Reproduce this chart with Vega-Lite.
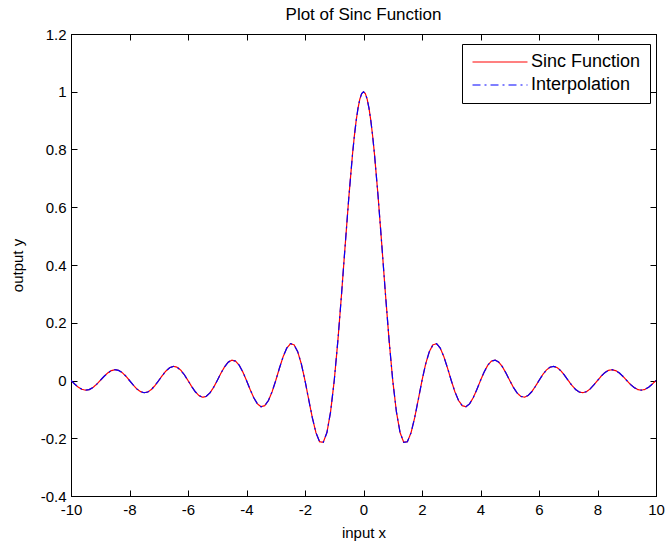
{
  "$schema": "https://vega.github.io/schema/vega-lite/v6.json",
  "width": 585,
  "height": 462,
  "autosize": {"type": "none"},
  "padding": {"left": 71, "top": 34, "right": 10, "bottom": 49},
  "background": "white",
  "title": {"text": "Plot of Sinc Function", "fontSize": 17, "fontWeight": "normal", "font": "Liberation Sans", "color": "black", "offset": 3, "anchor": "middle"},
  "config": {
    "locale": {"number": {"decimal": ".", "thousands": ",", "grouping": [3], "currency": ["$", ""], "minus": "-"}},
    "view": {"stroke": "black", "strokeWidth": 1},
    "axis": {"grid": false, "domainColor": "black", "tickColor": "black", "labelColor": "black", "titleColor": "black", "labelFont": "Liberation Sans", "titleFont": "Liberation Sans", "labelFontSize": 15, "titleFontSize": 15, "titleFontWeight": "normal", "tickSize": -6, "labelFlush": false, "labelOverlap": false}
  },
  "data": {"values": [
    {"x":-10,"y":0},{"x":-9.875,"y":-0.0123},{"x":-9.75,"y":-0.0231},{"x":-9.625,"y":-0.0306},{"x":-9.5,"y":-0.0335},{"x":-9.375,"y":-0.0314},{"x":-9.25,"y":-0.0243},{"x":-9.125,"y":-0.0133},
    {"x":-9,"y":0},{"x":-8.875,"y":0.0137},{"x":-8.75,"y":0.0257},{"x":-8.625,"y":0.0341},{"x":-8.5,"y":0.0374},{"x":-8.375,"y":0.0351},{"x":-8.25,"y":0.0273},{"x":-8.125,"y":0.015},
    {"x":-8,"y":0},{"x":-7.875,"y":-0.0155},{"x":-7.75,"y":-0.029},{"x":-7.625,"y":-0.0386},{"x":-7.5,"y":-0.0424},{"x":-7.375,"y":-0.0399},{"x":-7.25,"y":-0.031},{"x":-7.125,"y":-0.0171},
    {"x":-7,"y":0},{"x":-6.875,"y":0.0177},{"x":-6.75,"y":0.0333},{"x":-6.625,"y":0.0444},{"x":-6.5,"y":0.049},{"x":-6.375,"y":0.0461},{"x":-6.25,"y":0.036},{"x":-6.125,"y":0.0199},
    {"x":-6,"y":0},{"x":-5.875,"y":-0.0207},{"x":-5.75,"y":-0.0391},{"x":-5.625,"y":-0.0523},{"x":-5.5,"y":-0.0579},{"x":-5.375,"y":-0.0547},{"x":-5.25,"y":-0.0429},{"x":-5.125,"y":-0.0238},
    {"x":-5,"y":0},{"x":-4.875,"y":0.025},{"x":-4.75,"y":0.0474},{"x":-4.625,"y":0.0636},{"x":-4.5,"y":0.0707},{"x":-4.375,"y":0.0672},{"x":-4.25,"y":0.053},{"x":-4.125,"y":0.0295},
    {"x":-4,"y":0},{"x":-3.875,"y":-0.0314},{"x":-3.75,"y":-0.06},{"x":-3.625,"y":-0.0811},{"x":-3.5,"y":-0.0909},{"x":-3.375,"y":-0.0871},{"x":-3.25,"y":-0.0693},{"x":-3.125,"y":-0.039},
    {"x":-3,"y":0},{"x":-2.875,"y":0.0424},{"x":-2.75,"y":0.0818},{"x":-2.625,"y":0.112},{"x":-2.5,"y":0.1273},{"x":-2.375,"y":0.1238},{"x":-2.25,"y":0.1},{"x":-2.125,"y":0.0573},
    {"x":-2,"y":0},{"x":-1.875,"y":-0.065},{"x":-1.75,"y":-0.1286},{"x":-1.625,"y":-0.181},{"x":-1.5,"y":-0.2122},{"x":-1.375,"y":-0.2139},{"x":-1.25,"y":-0.1801},{"x":-1.125,"y":-0.1083},
    {"x":-1,"y":0},{"x":-0.875,"y":0.1392},{"x":-0.75,"y":0.3001},{"x":-0.625,"y":0.4705},{"x":-0.5,"y":0.6366},{"x":-0.375,"y":0.7842},{"x":-0.3125,"y":0.8469},{"x":-0.25,"y":0.9003},{"x":-0.1875,"y":0.9432},{"x":-0.125,"y":0.9745},{"x":-0.0625,"y":0.9936},
    {"x":0,"y":1},
    {"x":0.0625,"y":0.9936},{"x":0.125,"y":0.9745},{"x":0.1875,"y":0.9432},{"x":0.25,"y":0.9003},{"x":0.3125,"y":0.8469},{"x":0.375,"y":0.7842},{"x":0.5,"y":0.6366},{"x":0.625,"y":0.4705},{"x":0.75,"y":0.3001},{"x":0.875,"y":0.1392},{"x":1,"y":0},
    {"x":1.125,"y":-0.1083},{"x":1.25,"y":-0.1801},{"x":1.375,"y":-0.2139},{"x":1.5,"y":-0.2122},{"x":1.625,"y":-0.181},{"x":1.75,"y":-0.1286},{"x":1.875,"y":-0.065},{"x":2,"y":0},
    {"x":2.125,"y":0.0573},{"x":2.25,"y":0.1},{"x":2.375,"y":0.1238},{"x":2.5,"y":0.1273},{"x":2.625,"y":0.112},{"x":2.75,"y":0.0818},{"x":2.875,"y":0.0424},{"x":3,"y":0},
    {"x":3.125,"y":-0.039},{"x":3.25,"y":-0.0693},{"x":3.375,"y":-0.0871},{"x":3.5,"y":-0.0909},{"x":3.625,"y":-0.0811},{"x":3.75,"y":-0.06},{"x":3.875,"y":-0.0314},{"x":4,"y":0},
    {"x":4.125,"y":0.0295},{"x":4.25,"y":0.053},{"x":4.375,"y":0.0672},{"x":4.5,"y":0.0707},{"x":4.625,"y":0.0636},{"x":4.75,"y":0.0474},{"x":4.875,"y":0.025},{"x":5,"y":0},
    {"x":5.125,"y":-0.0238},{"x":5.25,"y":-0.0429},{"x":5.375,"y":-0.0547},{"x":5.5,"y":-0.0579},{"x":5.625,"y":-0.0523},{"x":5.75,"y":-0.0391},{"x":5.875,"y":-0.0207},{"x":6,"y":0},
    {"x":6.125,"y":0.0199},{"x":6.25,"y":0.036},{"x":6.375,"y":0.0461},{"x":6.5,"y":0.049},{"x":6.625,"y":0.0444},{"x":6.75,"y":0.0333},{"x":6.875,"y":0.0177},{"x":7,"y":0},
    {"x":7.125,"y":-0.0171},{"x":7.25,"y":-0.031},{"x":7.375,"y":-0.0399},{"x":7.5,"y":-0.0424},{"x":7.625,"y":-0.0386},{"x":7.75,"y":-0.029},{"x":7.875,"y":-0.0155},{"x":8,"y":0},
    {"x":8.125,"y":0.015},{"x":8.25,"y":0.0273},{"x":8.375,"y":0.0351},{"x":8.5,"y":0.0374},{"x":8.625,"y":0.0341},{"x":8.75,"y":0.0257},{"x":8.875,"y":0.0137},{"x":9,"y":0},
    {"x":9.125,"y":-0.0133},{"x":9.25,"y":-0.0243},{"x":9.375,"y":-0.0314},{"x":9.5,"y":-0.0335},{"x":9.625,"y":-0.0306},{"x":9.75,"y":-0.0231},{"x":9.875,"y":-0.0123},{"x":10,"y":0}
  ]},
  "layer": [
    {
      "mark": {"type": "line", "strokeWidth": 1.2, "clip": true},
      "encoding": {
        "x": {"field": "x", "type": "quantitative", "scale": {"domain": [-10, 10], "nice": false}, "axis": {"orient": "bottom", "values": [-10,-8,-6,-4,-2,0,2,4,6,8,10], "title": "input x", "labelPadding": 12, "titlePadding": 8}},
        "y": {"field": "y", "type": "quantitative", "scale": {"domain": [-0.4, 1.2], "nice": false, "zero": false}, "axis": {"orient": "left", "values": [-0.4,-0.2,0,0.2,0.4,0.6,0.8,1,1.2], "format": "~g", "title": "output y", "labelPadding": 11, "titlePadding": 15}},
        "color": {"datum": "Sinc Function", "type": "nominal", "scale": {"domain": ["Sinc Function", "Interpolation"], "range": ["#ff0000", "#0000ff"]},
          "legend": {"orient": "none", "legendX": 391, "legendY": 10, "title": null, "strokeColor": "black", "fillColor": "white", "padding": 9, "symbolType": "M-4,0H4", "symbolSize": 189, "symbolStrokeWidth": 1.2, "symbolOffset": 20, "labelFont": "Liberation Sans", "labelFontSize": 18, "labelColor": "black", "rowPadding": 5, "labelOffset": 22, "cornerRadius": 0}},
        "strokeDash": {"datum": "Sinc Function", "type": "nominal", "scale": {"domain": ["Sinc Function", "Interpolation"], "range": [[1, 0], [8, 4, 2, 4]]},
          "legend": {"orient": "none", "legendX": 391, "legendY": 10, "title": null, "strokeColor": "black", "fillColor": "white", "padding": 9, "symbolType": "M-4,0H4", "symbolSize": 189, "symbolStrokeWidth": 1.2, "symbolOffset": 20, "labelFont": "Liberation Sans", "labelFontSize": 18, "labelColor": "black", "rowPadding": 5, "labelOffset": 22, "cornerRadius": 0}}
      }
    },
    {
      "mark": {"type": "line", "strokeWidth": 1.2, "clip": true},
      "encoding": {
        "x": {"field": "x", "type": "quantitative", "axis": null},
        "y": {"field": "y", "type": "quantitative", "axis": null},
        "color": {"datum": "Interpolation", "type": "nominal"},
        "strokeDash": {"datum": "Interpolation", "type": "nominal"}
      }
    },
    {
      "mark": {"type": "line", "opacity": 0},
      "encoding": {
        "x": {"field": "x", "type": "quantitative", "axis": {"orient": "top", "values": [-10,-8,-6,-4,-2,0,2,4,6,8,10], "labels": false, "title": null}},
        "y": {"field": "y", "type": "quantitative", "axis": {"orient": "right", "values": [-0.4,-0.2,0,0.2,0.4,0.6,0.8,1,1.2], "labels": false, "title": null}}
      }
    }
  ],
  "resolve": {"axis": {"x": "independent", "y": "independent"}}
}
